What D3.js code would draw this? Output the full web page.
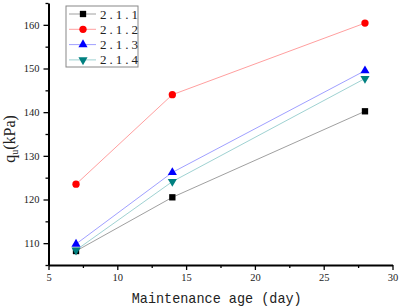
<!DOCTYPE html>
<html>
<head>
<meta charset="utf-8">
<script src="https://cdn.jsdelivr.net/npm/d3@7"></script>
<style>
  body { margin: 0; background: #fff; }
  svg { display: block; }
</style>
</head>
<body>
<div id="chart"></div>
<script>
// maintenance age (days) and qu values (kPa)
var ages = [7, 14, 28];
var s211 = [108.2, 120.5, 140.2];
var s212 = [123.5, 144.0, 160.4];
var s213 = [109.8, 126.2, 149.5];
var s214 = [108.4, 124.1, 147.7];
var seriesNames = ['2.1.1', '2.1.2', '2.1.3', '2.1.4'];
var xTicks = [5, 10, 15, 20, 25, 30];
var yTicks = [110, 120, 130, 140, 150, 160];

var series = [
  {name: seriesNames[0], values: s211, line: '#a0a0a0', color: '#000000', symbol: d3.symbolSquare, size: 40, rot: 0},
  {name: seriesNames[1], values: s212, line: '#ff9f9f', color: '#ff0000', symbol: d3.symbolCircle, size: 42, rot: 0},
  {name: seriesNames[2], values: s213, line: '#a0a0ff', color: '#0000ff', symbol: d3.symbolTriangle, size: 36, rot: 0},
  {name: seriesNames[3], values: s214, line: '#9fd2d2', color: '#008080', symbol: d3.symbolTriangle, size: 36, rot: 180}
];

var width = 400, height = 308;
var margin = {top: 3, right: 7.5, bottom: 43, left: 48.5};

var svg = d3.select('#chart').append('svg')
  .attr('width', width)
  .attr('height', height);

var x = d3.scaleLinear().domain([5, 30]).range([margin.left, width - margin.right]);
var y = d3.scaleLinear().domain([105, 165]).range([height - margin.bottom, margin.top]);

var serif = '"Liberation Serif", "DejaVu Serif", serif';
var mono = '"Liberation Mono", "DejaVu Sans Mono", monospace';

// minor ticks first
svg.append('g')
  .attr('transform', 'translate(0,' + y(105) + ')')
  .call(d3.axisBottom(x).tickValues(d3.range(7.5, 30, 5)).tickSize(3).tickFormat(''))
  .call(function(g) { g.select('.domain').remove(); })
  .selectAll('line').attr('stroke-width', 1.3);
svg.append('g')
  .attr('transform', 'translate(' + x(5) + ',0)')
  .call(d3.axisLeft(y).tickValues(d3.range(105, 166, 10)).tickSize(3).tickFormat(''))
  .call(function(g) { g.select('.domain').remove(); })
  .selectAll('line').attr('stroke-width', 1.3);

var xAxis = svg.append('g')
  .attr('transform', 'translate(0,' + y(105) + ')')
  .call(d3.axisBottom(x).tickValues(xTicks).tickSize(5).tickSizeOuter(0).tickPadding(4));
var yAxis = svg.append('g')
  .attr('transform', 'translate(' + x(5) + ',0)')
  .call(d3.axisLeft(y).tickValues(yTicks).tickSize(5).tickSizeOuter(0).tickPadding(4));

[xAxis, yAxis].forEach(function(g) {
  g.select('.domain').attr('stroke-width', 2);
  g.selectAll('.tick line').attr('stroke-width', 1.3);
  g.selectAll('text').attr('font-family', serif).attr('font-size', 10.5).attr('fill', '#222');
});

// lines
var line = d3.line()
  .x(function(d, i) { return x(ages[i]); })
  .y(function(d) { return y(d); });

series.forEach(function(s) {
  svg.append('path')
    .datum(s.values)
    .attr('d', line)
    .attr('fill', 'none')
    .attr('stroke', s.line)
    .attr('stroke-width', 1);
});

series.forEach(function(s) {
  svg.selectAll(null)
    .data(s.values)
    .enter().append('path')
    .attr('d', d3.symbol().type(s.symbol).size(s.size))
    .attr('transform', function(d, i) {
      return 'translate(' + x(ages[i]) + ',' + y(d) + ') rotate(' + s.rot + ')';
    })
    .attr('fill', s.color);
});

// legend
var legend = svg.append('g').attr('transform', 'translate(66,6)');
legend.append('rect')
  .attr('width', 72).attr('height', 61)
  .attr('fill', '#fff')
  .attr('stroke', '#888')
  .attr('stroke-width', 1);

series.forEach(function(s, i) {
  var row = legend.append('g').attr('transform', 'translate(0,' + (8 + i * 15.3) + ')');
  row.append('line')
    .attr('x1', 3).attr('x2', 30)
    .attr('stroke', s.line).attr('stroke-width', 1);
  row.append('path')
    .attr('d', d3.symbol().type(s.symbol).size(s.size))
    .attr('transform', 'translate(17,0) rotate(' + s.rot + ')')
    .attr('fill', s.color);
  row.append('text')
    .attr('x', 34).attr('y', 4.5)
    .attr('font-family', serif)
    .attr('font-size', 13)
    .attr('letter-spacing', 3)
    .attr('fill', '#222')
    .text(s.name);
});

// axis titles
svg.append('text')
  .attr('x', 216.7).attr('y', 303)
  .attr('text-anchor', 'middle')
  .attr('font-family', mono)
  .attr('font-size', 15)
  .attr('textLength', 170)
  .attr('lengthAdjust', 'spacingAndGlyphs')
  .attr('fill', '#222')
  .text('Maintenance age (day)');

var yTitle = svg.append('text')
  .attr('transform', 'translate(15,139) rotate(-90)')
  .attr('text-anchor', 'middle')
  .attr('font-family', serif)
  .attr('font-size', 16)
  .attr('fill', '#222');
yTitle.append('tspan').text('q');
yTitle.append('tspan').attr('font-size', 10).attr('dy', 3).text('u');
yTitle.append('tspan').attr('dy', -3).text('(kPa)');
</script>
</body>
</html>
